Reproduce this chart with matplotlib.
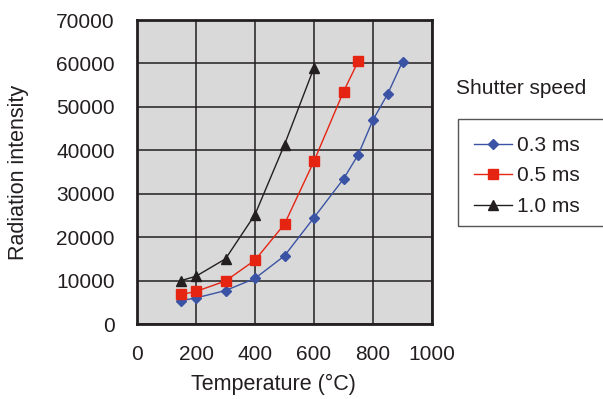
import matplotlib
matplotlib.use('Agg')
import matplotlib.pyplot as plt
from matplotlib.patches import Rectangle

# data
temp_03 = [150, 200, 300, 400, 500, 600, 700, 750, 800, 850, 900]
int_03 = [5400, 6000, 7700, 10500, 15700, 24500, 33400, 39000, 47000, 53000, 60400]
temp_05 = [150, 200, 300, 400, 500, 600, 700, 750]
int_05 = [6800, 7500, 9900, 14700, 23000, 37500, 53500, 60500]
temp_10 = [150, 200, 300, 400, 500, 600]
int_10 = [10000, 11000, 15000, 25200, 41300, 59000]
labels = ['0.3 ms', '0.5 ms', '1.0 ms']
xticks = [0, 200, 400, 600, 800, 1000]
yticks = [0, 10000, 20000, 30000, 40000, 50000, 60000, 70000]

plt.rcParams['font.family'] = ['Liberation Sans', 'DejaVu Sans']
txt = '#231f20'
fs = 15

fig = plt.figure(figsize=(6.03, 3.99), dpi=100)
ax = fig.add_axes([137/603, 75/399, 295/603, 304/399])
ax.set_facecolor('#d9d9d9')

ax.plot(temp_03, int_03, color='#3a53a4', lw=1, marker='D', ms=5.5, label=labels[0], zorder=3)
ax.plot(temp_05, int_05, color='#e52412', lw=1, marker='s', ms=7, label=labels[1], zorder=3)
ax.plot(temp_10, int_10, color=txt, lw=1, marker='^', ms=7, label=labels[2], zorder=3)

ax.set_xlim(0, 1000)
ax.set_ylim(0, 70000)
ax.set_xticks(xticks)
ax.set_yticks(yticks)
ax.grid(True, color=txt, lw=1.1)
ax.set_axisbelow(True)
ax.tick_params(length=0, labelsize=fs, labelcolor=txt)
ax.tick_params(axis='x', pad=15)
ax.tick_params(axis='y', pad=16)
for s in ax.spines.values():
    s.set_linewidth(2)
    s.set_color(txt)

ax.set_xlabel('Temperature (°C)', fontsize=15.5, color=txt)
ax.xaxis.set_label_coords(0.461, -0.2)
ax.xaxis.label.set_va('center')
ax.set_ylabel('Radiation intensity', fontsize=15.5, color=txt)
ax.yaxis.set_label_coords(-0.40, 0.5)
ax.yaxis.label.set_va('center')

# legend: title sits outside the box, box runs off the right edge
fig.text(456/603, 1 - 88/399, 'Shutter speed', fontsize=fs, color=txt, va='center', ha='left')
fig.patches.append(Rectangle((458/603, 1 - 226/399), 160/603, 107/399,
                             transform=fig.transFigure, fill=False, ec='#555555', lw=1))
fig.legend(loc='upper left', bbox_to_anchor=(474/603, 1 - 136/399), frameon=False,
           fontsize=fs, handlelength=1.8, handletextpad=0.25, labelspacing=0.55,
           borderaxespad=0, borderpad=0, labelcolor=txt)

fig.savefig('out.png', dpi=100)
